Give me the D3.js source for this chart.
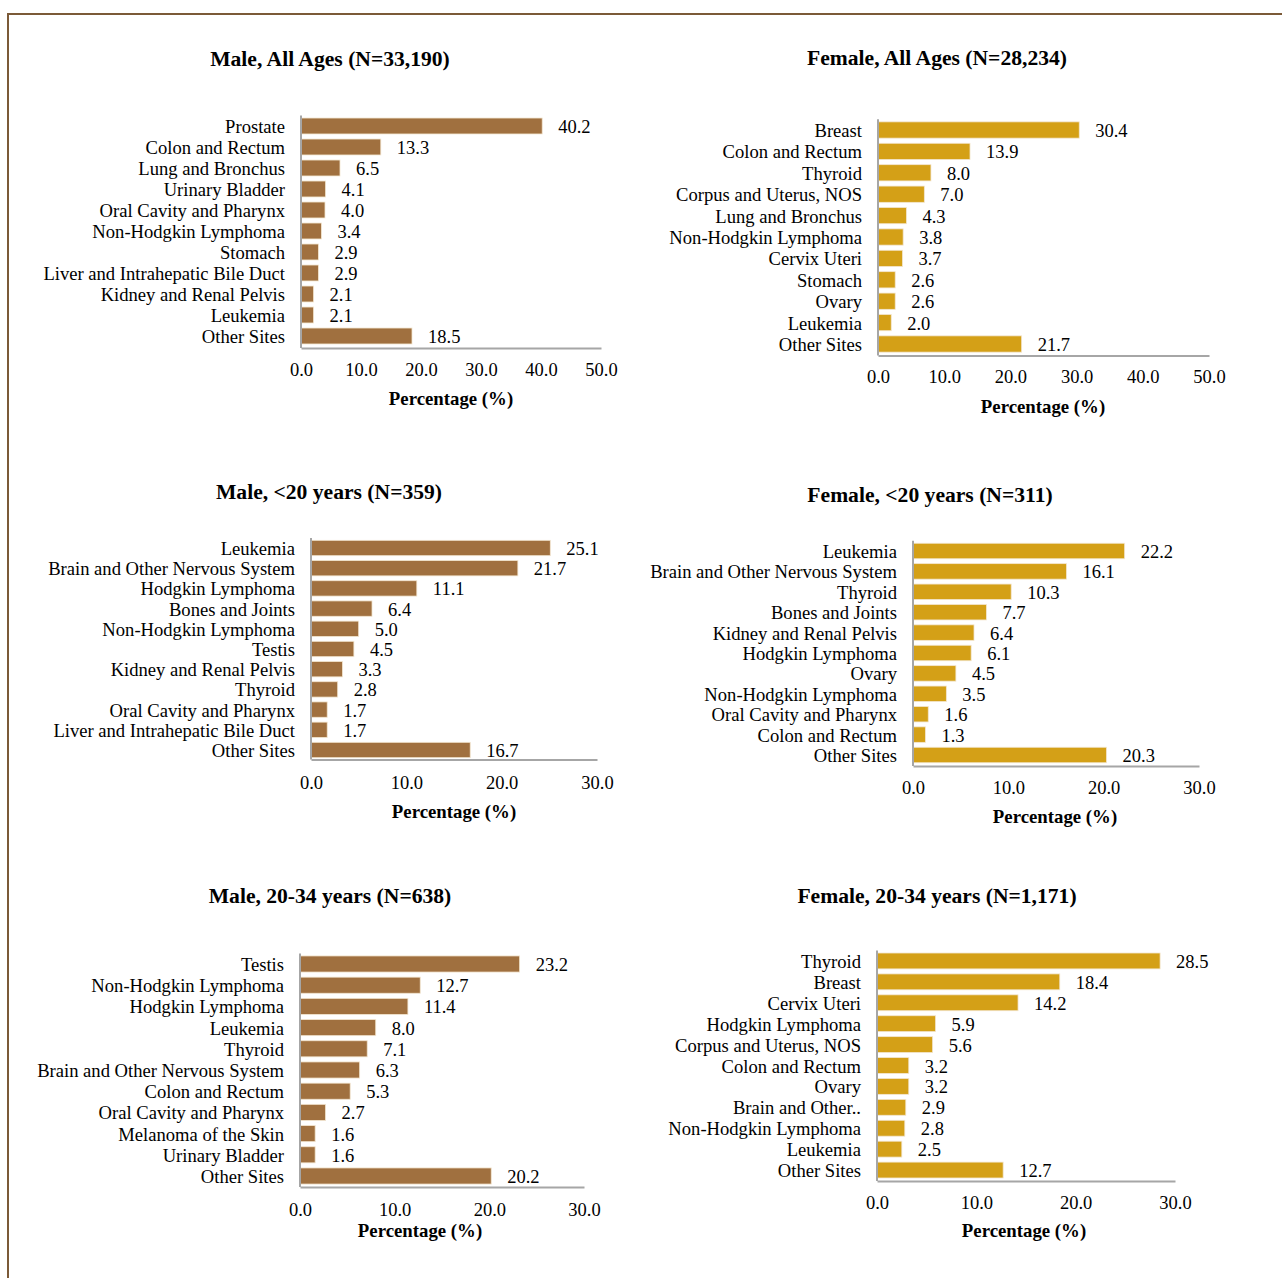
<!DOCTYPE html>
<html><head><meta charset="utf-8">
<script src="https://cdn.jsdelivr.net/npm/d3@7"></script>
<style>
html,body{margin:0;padding:0;background:#fff;}
svg{display:block;font-family:"Liberation Serif","Times New Roman",serif;}
</style></head>
<body>
<svg id="chart" width="1282" height="1278"></svg>
<script>
// ---- Data ----
const maleAllCategories = ["Prostate","Colon and Rectum","Lung and Bronchus","Urinary Bladder","Oral Cavity and Pharynx","Non-Hodgkin Lymphoma","Stomach","Liver and Intrahepatic Bile Duct","Kidney and Renal Pelvis","Leukemia","Other Sites"];
const maleAllValues = [40.2,13.3,6.5,4.1,4.0,3.4,2.9,2.9,2.1,2.1,18.5];

const femaleAllCategories = ["Breast","Colon and Rectum","Thyroid","Corpus and Uterus, NOS","Lung and Bronchus","Non-Hodgkin Lymphoma","Cervix Uteri","Stomach","Ovary","Leukemia","Other Sites"];
const femaleAllValues = [30.4,13.9,8.0,7.0,4.3,3.8,3.7,2.6,2.6,2.0,21.7];

const maleU20Categories = ["Leukemia","Brain and Other Nervous System","Hodgkin Lymphoma","Bones and Joints","Non-Hodgkin Lymphoma","Testis","Kidney and Renal Pelvis","Thyroid","Oral Cavity and Pharynx","Liver and Intrahepatic Bile Duct","Other Sites"];
const maleU20Values = [25.1,21.7,11.1,6.4,5.0,4.5,3.3,2.8,1.7,1.7,16.7];

const femaleU20Categories = ["Leukemia","Brain and Other Nervous System","Thyroid","Bones and Joints","Kidney and Renal Pelvis","Hodgkin Lymphoma","Ovary","Non-Hodgkin Lymphoma","Oral Cavity and Pharynx","Colon and Rectum","Other Sites"];
const femaleU20Values = [22.2,16.1,10.3,7.7,6.4,6.1,4.5,3.5,1.6,1.3,20.3];

const male2034Categories = ["Testis","Non-Hodgkin Lymphoma","Hodgkin Lymphoma","Leukemia","Thyroid","Brain and Other Nervous System","Colon and Rectum","Oral Cavity and Pharynx","Melanoma of the Skin","Urinary Bladder","Other Sites"];
const male2034Values = [23.2,12.7,11.4,8.0,7.1,6.3,5.3,2.7,1.6,1.6,20.2];

const female2034Categories = ["Thyroid","Breast","Cervix Uteri","Hodgkin Lymphoma","Corpus and Uterus, NOS","Colon and Rectum","Ovary","Brain and Other..","Non-Hodgkin Lymphoma","Leukemia","Other Sites"];
const female2034Values = [28.5,18.4,14.2,5.9,5.6,3.2,3.2,2.9,2.8,2.5,12.7];

const titles = ["Male, All Ages (N=33,190)","Female, All Ages (N=28,234)","Male, <20 years (N=359)","Female, <20 years (N=311)","Male, 20-34 years (N=638)","Female, 20-34 years (N=1,171)"];
const ticks50 = [0,10,20,30,40,50];
const ticks30 = [0,10,20,30];
const axisTitle = "Percentage (%)";

const maleColor = "#A0703F";
const femaleColor = "#D4A017";

// ---- Layout ----
const panels = [
  {cats:maleAllCategories, vals:maleAllValues, title:titles[0], ticks:ticks50, color:maleColor,
   x0:301, x1:601, yTop:115.5, yBot:346.5, axisY:348, titleX:330, titleY:59, tickY:370, atX:451, atY:399},
  {cats:femaleAllCategories, vals:femaleAllValues, title:titles[1], ticks:ticks50, color:femaleColor,
   x0:878, x1:1209, yTop:119.3, yBot:354.7, axisY:355.5, titleX:937, titleY:58, tickY:377, atX:1043, atY:407},
  {cats:maleU20Categories, vals:maleU20Values, title:titles[2], ticks:ticks30, color:maleColor,
   x0:311, x1:597, yTop:537.9, yBot:760.1, axisY:759.5, titleX:329, titleY:492, tickY:783, atX:454, atY:812},
  {cats:femaleU20Categories, vals:femaleU20Values, title:titles[3], ticks:ticks30, color:femaleColor,
   x0:913, x1:1199, yTop:540.8, yBot:765.2, axisY:766, titleX:930, titleY:495, tickY:788, atX:1055, atY:817},
  {cats:male2034Categories, vals:male2034Values, title:titles[4], ticks:ticks30, color:maleColor,
   x0:300, x1:584, yTop:953.4, yBot:1186.6, axisY:1187, titleX:330, titleY:896, tickY:1210, atX:420, atY:1231},
  {cats:female2034Categories, vals:female2034Values, title:titles[5], ticks:ticks30, color:femaleColor,
   x0:877, x1:1175, yTop:950.5, yBot:1180.5, axisY:1181, titleX:937, titleY:896, tickY:1203, atX:1024, atY:1231}
];

const svg = d3.select("#chart");

// outer border
svg.append("rect").attr("x",8).attr("y",14).attr("width",1300).attr("height",1300)
  .attr("fill","none").attr("stroke","#7B5A38").attr("stroke-width",2);

panels.forEach(p => {
  const g = svg.append("g");
  const x = d3.scaleLinear().domain([0, d3.max(p.ticks)]).range([p.x0, p.x1]);
  const y = d3.scaleBand().domain(p.cats).range([p.yTop, p.yBot]).paddingInner(0.24).paddingOuter(0.12);

  // title
  g.append("text").attr("x",p.titleX).attr("y",p.titleY).attr("dy","0.31em")
    .attr("text-anchor","middle").attr("font-weight","bold").attr("font-size",21.6)
    .attr("fill","#000").text(p.title);

  // bars
  const data = p.cats.map((c,i)=>({c, v:p.vals[i]}));
  g.selectAll("rect.bar").data(data).join("rect").attr("class","bar")
    .attr("x", x(0)).attr("y", d=>y(d.c))
    .attr("width", d=>x(d.v)-x(0)).attr("height", y.bandwidth())
    .attr("fill", p.color).attr("stroke","#f3e6d0").attr("stroke-width",0.8);

  // value labels
  g.selectAll("text.val").data(data).join("text").attr("class","val")
    .attr("x", d=>x(d.v)+16).attr("y", d=>y(d.c)+y.bandwidth()/2).attr("dy","0.38em")
    .attr("font-size",18.5).attr("fill","#000").text(d=>d.v.toFixed(1));

  // category labels
  g.selectAll("text.cat").data(data).join("text").attr("class","cat")
    .attr("x", x(0)-16).attr("y", d=>y(d.c)+y.bandwidth()/2).attr("dy","0.38em")
    .attr("text-anchor","end").attr("font-size",18.6).attr("fill","#000").text(d=>d.c);

  // axes lines
  g.append("line").attr("x1",x(0)).attr("x2",x(0)).attr("y1",p.yTop).attr("y2",p.axisY)
    .attr("stroke","#a6a6a6").attr("stroke-width",2);

  const axis = d3.axisBottom(x).tickValues(p.ticks).tickSize(0).tickSizeOuter(0)
    .tickFormat(d3.format(".1f"));
  const ag = g.append("g").attr("transform",`translate(0,${p.axisY})`).call(axis);
  ag.select(".domain").attr("stroke","#a6a6a6").attr("stroke-width",2);
  ag.selectAll("text").attr("y", p.tickY - p.axisY).attr("dy","0.33em")
    .attr("font-size",18.5).attr("font-family","Liberation Serif, Times New Roman, serif").attr("fill","#000");

  // axis title
  g.append("text").attr("x",p.atX).attr("y",p.atY).attr("dy","0.31em")
    .attr("text-anchor","middle").attr("font-weight","bold").attr("font-size",18.8)
    .attr("fill","#000").text(axisTitle);
});
</script>
</body></html>
